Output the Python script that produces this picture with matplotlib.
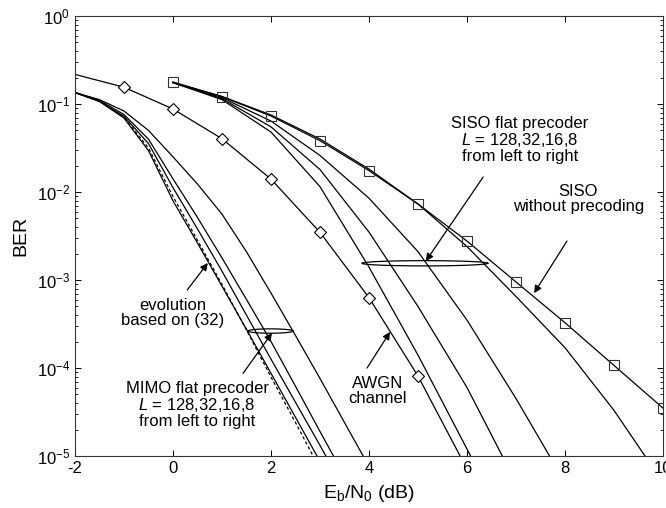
"""
BER vs Eb/N0 - SISO / MIMO flat precoder comparison
"""

import numpy as np
import matplotlib
matplotlib.use('Agg')
import matplotlib.pyplot as plt
from matplotlib.ticker import FixedLocator, LogLocator, NullFormatter, FuncFormatter

# DATOS
# canal AWGN (rombos)
x_awgn = [-2, -1, 0, 1, 2, 3, 4, 5, 6]
ber_awgn = [0.217, 0.155, 0.0877, 0.0403, 0.0140, 0.00348, 6.3e-4, 8.1e-5, 7.1e-6]

# SISO sin precodificacion (cuadrados)
x_siso = [0, 1, 2, 3, 4, 5, 6, 7, 8, 9, 10]
ber_siso = [0.178, 0.121, 0.073, 0.0383, 0.0175, 0.0073, 0.00277, 9.5e-4, 3.27e-4, 1.07e-4, 3.5e-5]

# SISO flat precoder, L = 128, 32, 16, 8
x_siso_128 = [0, 1, 2, 3, 4, 5, 6, 7]
ber_siso_128 = [0.175, 0.112, 0.048, 0.0115, 0.0014, 1.4e-4, 1.2e-5, 1e-6]
x_siso_32 = [0, 1, 2, 3, 4, 5, 6, 7]
ber_siso_32 = [0.175, 0.115, 0.055, 0.018, 0.0035, 5e-4, 6e-5, 5e-6]
x_siso_16 = [0, 1, 2, 3, 4, 5, 6, 7, 8]
ber_siso_16 = [0.175, 0.118, 0.064, 0.026, 0.0085, 0.0021, 3.5e-4, 4.5e-5, 5e-6]
x_siso_8 = [0, 1, 2, 3, 4, 5, 6, 7, 8, 9, 10]
ber_siso_8 = [0.175, 0.122, 0.075, 0.040, 0.0182, 0.0073, 0.0024, 6.5e-4, 1.7e-4, 3.3e-5, 5e-6]

# MIMO flat precoder, L = 128, 32, 16, 8 + evolucion segun (32)
x_mimo = [-2, -1.5, -1, -0.5, 0, 0.5, 1, 1.5, 2, 2.5, 3, 3.5, 4]
ber_evol = [0.135, 0.107, 0.0708, 0.0316, 0.00891, 0.00282, 8.9e-4, 2.69e-4, 7.9e-5, 2.4e-5, 7.1e-6]
ber_mimo_128 = [0.135, 0.107, 0.0692, 0.0295, 0.00794, 0.00263, 8.5e-4, 2.75e-4, 8.7e-5, 2.75e-5, 8.7e-6]
ber_mimo_32 = [0.135, 0.107, 0.0724, 0.0355, 0.0112, 0.00380, 1.26e-3, 3.98e-4, 1.26e-4, 4.07e-5,
               1.32e-5, 4.1e-6, 1.26e-6]
ber_mimo_16 = [0.135, 0.110, 0.0759, 0.0398, 0.0141, 0.00513, 1.78e-3, 6.0e-4, 2.0e-4, 6.2e-5,
               1.9e-5, 5.9e-6, 1.78e-6]
ber_mimo_8 = [0.135, 0.112, 0.0832, 0.0501, 0.0251, 0.0123, 5.6e-3, 2.09e-3, 7.1e-4, 2.34e-4,
              7.6e-5, 2.4e-5, 7.6e-6]

x_ticks = [-2, 0, 2, 4, 6, 8, 10]
y_ticks = [1e-5, 1e-4, 1e-3, 1e-2, 1e-1, 1e0]

# ESTILO
plt.rcParams['font.family'] = ['Liberation Sans', 'DejaVu Sans']
plt.rcParams['mathtext.fontset'] = 'custom'
plt.rcParams['mathtext.rm'] = 'Liberation Sans'
plt.rcParams['mathtext.it'] = 'Liberation Sans:italic'
plt.rcParams['mathtext.default'] = 'regular'

LW = 0.9


def elipse(ax, cx, a, cy_log, b_log):
    # elipse dibujada en espacio (x, log10 y)
    t = np.linspace(0, 2 * np.pi, 200)
    ax.plot(cx + a * np.cos(t), 10 ** (cy_log + b_log * np.sin(t)),
            color='black', lw=LW, zorder=4)


def flecha(ax, desde, hasta):
    ax.annotate('', xy=hasta, xytext=desde,
                arrowprops=dict(arrowstyle='-|>', color='black', lw=LW,
                                mutation_scale=11, shrinkA=0, shrinkB=0),
                zorder=5)


fig = plt.figure(figsize=(6.66, 5.08), dpi=100, facecolor='white')
ax = fig.add_axes([75 / 666, 1 - 456 / 508, (663 - 75) / 666, (456 - 16) / 508])

# CURVAS
ax.plot(x_mimo[:len(ber_evol)], ber_evol, color='black', lw=LW, ls=(0, (2.5, 2)))
ax.plot(x_mimo[:len(ber_mimo_128)], ber_mimo_128, color='black', lw=LW)
ax.plot(x_mimo[:len(ber_mimo_32)], ber_mimo_32, color='black', lw=LW)
ax.plot(x_mimo[:len(ber_mimo_16)], ber_mimo_16, color='black', lw=LW)
ax.plot(x_mimo[:len(ber_mimo_8)], ber_mimo_8, color='black', lw=LW)

ax.plot(x_siso_128, ber_siso_128, color='black', lw=LW)
ax.plot(x_siso_32, ber_siso_32, color='black', lw=LW)
ax.plot(x_siso_16, ber_siso_16, color='black', lw=LW)
ax.plot(x_siso_8, ber_siso_8, color='black', lw=LW)

ax.plot(x_awgn, ber_awgn, color='black', lw=LW, marker='D', ms=6.5,
        mfc='white', mec='black', mew=0.8, markevery=slice(1, 8))
ax.plot(x_siso, ber_siso, color='black', lw=LW, marker='s', ms=7.5,
        mfc='none', mec='#333333', mew=0.8)

# ELIPSES
elipse(ax, 5.14, 1.285, -2.81, 0.03)
elipse(ax, 1.99, 0.46, -3.58, 0.025)

# TEXTOS Y FLECHAS
fs = 12
ax.text(7.08, 0.039, 'SISO flat precoder\n$\\mathit{L}$ = 128,32,16,8\nfrom left to right',
        ha='center', va='center', fontsize=fs, linespacing=1.0)
flecha(ax, (6.33, 0.0148), (5.16, 1.64e-3))

ax.text(8.27, 8.3e-3, 'SISO\nwithout precoding',
        ha='center', va='center', fontsize=fs, linespacing=1.0)
flecha(ax, (8.04, 2.77e-3), (7.37, 7.1e-4))

ax.text(4.18, 5.5e-5, 'AWGN\nchannel',
        ha='center', va='center', fontsize=fs, linespacing=1.0)
flecha(ax, (3.96, 1.0e-4), (4.43, 2.57e-4))

ax.text(0.0, 4.2e-4, 'evolution\nbased on (32)',
        ha='center', va='center', fontsize=fs, linespacing=1.0)
flecha(ax, (0.29, 7.7e-4), (0.71, 1.56e-3))

ax.text(0.49, 3.8e-5, 'MIMO flat precoder\n$\\mathit{L}$ = 128,32,16,8\nfrom left to right',
        ha='center', va='center', fontsize=fs, linespacing=1.0)
flecha(ax, (1.43, 8.7e-5), (2.02, 2.5e-4))

# EJES
ax.set_yscale('log')
ax.set_xlim(-2, 10)
ax.set_ylim(1e-5, 1e0)
ax.xaxis.set_major_locator(FixedLocator(x_ticks))
ax.yaxis.set_major_locator(FixedLocator(y_ticks))
ax.yaxis.set_minor_locator(LogLocator(base=10, subs=np.arange(2, 10)))
ax.yaxis.set_minor_formatter(NullFormatter())
ax.yaxis.set_major_formatter(FuncFormatter(lambda v, p: r'$10^{%d}$' % round(np.log10(v))))
ax.xaxis.set_major_formatter(FuncFormatter(lambda v, p: '%d' % v))

ax.tick_params(which='both', direction='in', top=True, right=True, labelsize=fs)
ax.tick_params(which='major', length=4.5, width=0.7)
ax.tick_params(which='minor', length=2.2, width=0.6)
ax.tick_params(axis='x', which='minor', top=False, bottom=False)
for s in ax.spines.values():
    s.set_linewidth(0.8)
    s.set_color('#333333')

ax.set_ylabel('BER', fontsize=14, labelpad=5)
ax.set_xlabel(r'E$_\mathrm{b}$/N$_0$ (dB)', fontsize=14, labelpad=5)

plt.savefig('out.png', dpi=100, facecolor='white')
plt.close()
